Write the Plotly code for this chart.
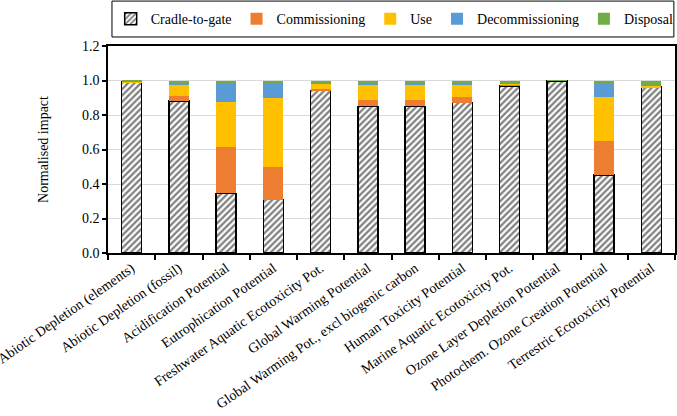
import plotly.graph_objects as go

categories = [
    "Abiotic Depletion (elements)", "Abiotic Depletion (fossil)", "Acidification Potential",
    "Eutrophication Potential", "Freshwater Aquatic Ecotoxicity Pot.", "Global Warming Potential",
    "Global Warming Pot., excl biogenic carbon", "Human Toxicity Potential",
    "Marine Aquatic Ecotoxicity Pot.", "Ozone Layer Depletion Potential",
    "Photochem. Ozone Creation Potential", "Terrestric Ecotoxicity Potential",
]
cradle_to_gate   = [0.990, 0.880, 0.345, 0.310, 0.942, 0.850, 0.850, 0.872, 0.969, 0.998, 0.452, 0.962]
commissioning    = [0.000, 0.028, 0.270, 0.188, 0.010, 0.038, 0.038, 0.032, 0.006, 0.000, 0.200, 0.000]
use              = [0.005, 0.070, 0.262, 0.402, 0.031, 0.085, 0.085, 0.073, 0.010, 0.000, 0.252, 0.004]
decommissioning  = [0.000, 0.008, 0.112, 0.078, 0.004, 0.012, 0.012, 0.010, 0.002, 0.000, 0.084, 0.000]
disposal         = [0.005, 0.014, 0.011, 0.022, 0.013, 0.015, 0.015, 0.013, 0.013, 0.002, 0.012, 0.034]
y_ticks = [0.0, 0.2, 0.4, 0.6, 0.8, 1.0, 1.2]

FONT = "Liberation Serif, Times New Roman, serif"

fig = go.Figure()
fig.add_trace(go.Bar(
    name="Cradle-to-gate", x=categories, y=cradle_to_gate,
    marker=dict(color="white", line=dict(color="black", width=1.5),
                pattern=dict(shape="/", fgcolor="black", bgcolor="white", size=4.5, solidity=0.5)),
))
for name, vals, col in [
    ("Commissioning", commissioning, "#ED7D31"),
    ("Use", use, "#FFC000"),
    ("Decommissioning", decommissioning, "#5B9BD5"),
    ("Disposal", disposal, "#70AD47"),
]:
    fig.add_trace(go.Bar(name=name, x=categories, y=vals, marker=dict(color=col, line=dict(width=0))))

fig.update_layout(
    barmode="stack", bargap=0.58,
    width=677, height=416,
    margin=dict(l=108, r=2, t=46, b=163, autoexpand=False),
    paper_bgcolor="white", plot_bgcolor="white",
    font=dict(family=FONT, size=14, color="black"),
    legend=dict(orientation="h", xref="container", yref="container",
                x=0.583, xanchor="center", y=0.954, yanchor="middle",
                font=dict(family=FONT, size=14), bgcolor="rgba(0,0,0,0)", borderwidth=0,
                traceorder="normal", itemwidth=30),
    shapes=[dict(type="rect", xref="paper", yref="paper", x0=0.007, x1=0.998, y0=1.0435, y1=1.217,
                 line=dict(color="black", width=1), fillcolor="rgba(0,0,0,0)")],
)
fig.update_xaxes(
    type="category", tickangle=-35, showline=True, linecolor="black", linewidth=1.5,
    mirror=True, ticks="outside", ticklen=5, tickcolor="black", tickwidth=1.5,
    tickson="boundaries", showgrid=False, tickfont=dict(family=FONT, size=14),
)
fig.update_yaxes(
    range=[0, 1.2], tickvals=y_ticks, tickformat=".1f", showline=True, linecolor="black",
    linewidth=1.5, mirror=True, ticks="outside", ticklen=4, tickcolor="black", tickwidth=1.5,
    showgrid=True, gridcolor="#D9D9D9", gridwidth=1, zeroline=False,
    title=dict(text="Normalised impact", font=dict(family=FONT, size=14), standoff=30),
    tickfont=dict(family=FONT, size=14),
)
fig.write_html("out.html")
